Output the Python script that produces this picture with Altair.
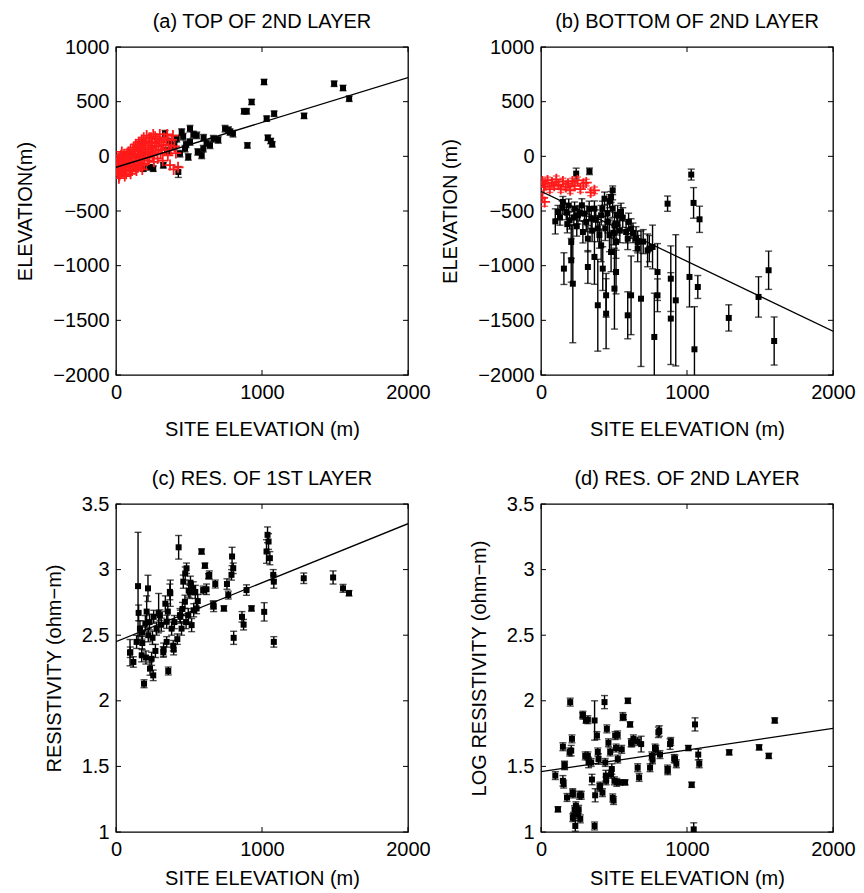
import altair as alt
import pandas as pd

FONT = "Liberation Sans"

# ---------------- (a) top of 2nd layer ----------------
a_site = [187, 255, 324, 336, 370, 416, 427, 438, 450, 473, 495, 507, 507, 530, 553, 587, 598, 620,
          644, 667, 700, 747, 770, 781, 801, 877, 895, 900, 929, 1014, 1032, 1040, 1060, 1070, 1083,
          1288, 1494, 1555, 1597, 460, 480, 560, 600, 400, 350, 130, 230]
a_elev = [-113, -113, -82, 207, 131, 161, -143, 24, 222, 70, -6, 253, 131, 200, 192, 9, 70, 120,
          101, 161, 150, 253, 240, 222, 207, 412, 412, 100, 497, 680, 345, 170, 140, 110, 390,
          370, 664, 625, 527, 180, 110, 40, 170, 100, 50, -110, -100]
a_err = [25, 25, 25, 30, 30, 30, 50, 30, 30, 30, 30, 30, 30, 30, 30, 30, 30, 30,
         30, 30, 30, 30, 30, 30, 30, 25, 25, 25, 25, 25, 25, 25, 25, 25, 25,
         25, 25, 25, 25, 30, 30, 30, 30, 30, 30, 25, 25]
a_red_site = [0, 5, 10, 15, 20, 25, 30, 35, 40, 45, 50, 55, 60, 65, 70, 75, 80, 85, 90, 95, 100,
              105, 110, 115, 120, 125, 130, 135, 140, 145, 150, 155, 160, 165, 170, 175, 180, 185,
              190, 195, 200, 205, 210, 215, 220, 225, 230, 240, 245, 250, 255, 260, 265, 270, 280,
              285, 290, 300, 305, 310, 320, 330, 340, 350, 360, 370, 380, 395, 410, 425, 20, 60,
              100, 140, 180, 40,
              8, 12, 18, 28, 33, 38, 48, 52, 58, 68, 72, 78, 88, 92, 98, 108, 112, 118, 128, 132,
              138, 148, 152, 158, 162, 168, 178, 182, 188, 198, 208, 218, 228, 235, 248, 258, 268,
              275, 295, 315, 325, 345, 355, 375, 390, 400]
a_red_elev = [-120, -60, -150, -20, -90, -170, -40, 10, -110, -70, -130, 20, -30, -90, -160, 0, -60,
              40, -100, -20, 60, -50, -130, 20, 80, -80, 0, 110, -40, 50, -100, 130, 10, -60, 80,
              150, -20, 40, 170, -70, 100, 20, 190, -40, 60, 130, -10, 170, 80, 10, 200, -50, 120,
              50, 160, -20, 90, 200, 30, 130, -40, 170, 60, 200, 100, -80, 150, -120, 30, -100,
              -200, -180, -160, -130, -120, 40,
              -100, -40, -130, -10, -80, -150, -30, -100, -60, -10, -120, 30, -70, 10, -140, 0,
              -90, 50, -50, 60, -110, 90, 0, -60, 110, 20, 80, -80, 120, 40, 140, -10, 170, 80,
              130, 30, 180, 100, 150, 60, 110, 150, 10, 60, 190, 90]

# ---------------- (b) bottom of 2nd layer ----------------
b_site = [98, 116, 150, 157, 173, 196, 207, 207, 218, 230, 241, 253, 280, 287, 298, 321, 321, 332,
          344, 366, 366, 389, 389, 412, 412, 423, 435, 446, 446, 457, 469, 480, 480, 491, 491, 503,
          503, 514, 514, 525, 548, 583, 594, 594, 617, 617, 651, 662, 662, 685, 742, 764, 776, 798,
          798, 867, 889, 889, 923, 1017, 1029, 1045, 1051, 1074, 1086, 1286, 1490, 1559, 1597,
          130, 145, 180, 190, 225, 245, 265, 310, 330, 350, 375, 400, 420, 440, 455, 470, 495, 520,
          540, 560, 600, 630, 700, 730]
b_elev = [-595, -509, -417, -1027, -509, -585, -951, -783, -1165, -478, -158, -539, -448, -692,
          -524, -1012, -753, -137, -570, -478, -920, -661, -1362, -539, -814, -1027, -387, -1439,
          -1271, -600, -722, -875, -372, -311, -478, -631, -1210, -1058, -783, -539, -509, -692,
          -753, -1454, -661, -1271, -753, -844, -783, -1302, -844, -829, -1652, -1058, -1271, -433,
          -1119, -1484, -1317, -1103, -167, -426, -1765, -1195, -576, -1478, -1286, -1042, -1689,
          -560, -470, -620, -450, -560, -640, -520, -600, -480, -680, -580, -720, -480, -660, -520,
          -410, -700, -620, -680, -560, -600, -700, -780, -860]
b_err = [115, 60, 50, 145, 70, 80, 200, 150, 540, 60, 50, 80, 60, 100, 70, 150, 120, 30, 90, 70,
         250, 120, 420, 90, 150, 200, 60, 320, 200, 100, 150, 180, 50, 40, 80, 120, 370, 200, 150,
         90, 80, 100, 100, 215, 90, 360, 110, 120, 100, 620, 120, 200, 400, 260, 150, 70, 300,
         420, 600, 275, 50, 140, 390, 105, 120, 120, 185, 175, 220,
         70, 60, 80, 60, 70, 90, 70, 90, 70, 100, 90, 120, 70, 110, 80, 60, 110, 100, 110, 90, 80,
         90, 110, 150]
b_red_site = [10, 20, 30, 25, 10, 45, 60, 75, 90, 105, 120, 135, 150, 170, 185, 200, 215, 230, 250,
              270, 290, 310, 366, 340]
b_red_elev = [-230, -280, -250, -417, -380, -220, -300, -240, -270, -210, -260, -300, -230, -280,
              -250, -310, -230, -270, -220, -300, -250, -240, -311, -330]
b_red_err = [30, 30, 30, 40, 40, 30, 30, 30, 30, 30, 30, 30, 30, 30, 30, 30, 30, 30, 30, 30, 30,
             30, 30, 30]

# ---------------- (c) resistivity of 1st layer ----------------
c_site = [96, 98, 119, 141, 151, 155, 164, 176, 178, 192, 201, 210, 219, 221, 233, 244, 255, 258,
          278, 292, 301, 324, 326, 338, 347, 347, 358, 369, 372, 381, 392, 395, 429, 438, 441, 449,
          461, 472, 474, 483, 495, 498, 506, 518, 529, 532, 543, 552, 586, 597, 609, 634, 639, 666,
          669, 680, 739, 760, 769, 791, 795, 803, 806, 863, 874, 894, 928, 1015, 1031, 1038, 1045,
          1054, 1077, 1081, 1081, 1286, 1487, 1555, 1596,
          180, 205, 230, 250, 270, 310, 355, 400, 420, 455, 480, 510, 560, 620]
c_res = [2.367, 2.37, 2.296, 2.449, 2.874, 2.67, 2.55, 2.347, 2.52, 2.13, 2.59, 2.68, 2.857, 2.50,
         2.245, 2.32, 2.194, 2.64, 2.55, 2.668, 2.653, 2.372, 2.39, 2.74, 2.449, 2.602, 2.227, 2.83,
         2.82, 2.55, 2.42, 2.39, 3.17, 2.653, 2.64, 2.55, 2.908, 2.755, 2.97, 3.01, 2.653, 2.84,
         2.83, 2.577, 2.857, 2.69, 2.83, 2.704, 3.138, 2.844, 3.03, 2.95, 2.96, 2.73, 2.72, 2.89,
         2.704, 2.89, 2.806, 2.96, 3.10, 3.01, 2.48, 2.64, 2.58, 2.844, 2.704, 2.678, 3.138, 3.265,
         3.214, 3.087, 2.96, 2.449, 2.908, 2.934, 2.94, 2.857, 2.82,
         2.44, 2.33, 2.60, 2.48, 2.38, 2.58, 2.68, 2.60, 2.47, 2.70, 2.60, 2.90, 2.76, 2.85]
c_err = [0.10, 0.04, 0.04, 0.05, 0.41, 0.06, 0.06, 0.05, 0.05, 0.03, 0.06, 0.12, 0.10, 0.05, 0.05,
         0.05, 0.04, 0.05, 0.05, 0.15, 0.04, 0.04, 0.05, 0.06, 0.04, 0.05, 0.03, 0.06, 0.10, 0.05,
         0.04, 0.04, 0.09, 0.05, 0.05, 0.05, 0.05, 0.05, 0.05, 0.04, 0.05, 0.05, 0.05, 0.05, 0.05,
         0.05, 0.05, 0.04, 0.02, 0.03, 0.02, 0.02, 0.03, 0.03, 0.04, 0.03, 0.02, 0.04, 0.03, 0.04,
         0.07, 0.04, 0.05, 0.04, 0.04, 0.04, 0.02, 0.07, 0.09, 0.06, 0.06, 0.05, 0.04, 0.04, 0.05,
         0.04, 0.05, 0.03, 0.02,
         0.05, 0.05, 0.06, 0.05, 0.05, 0.05, 0.06, 0.05, 0.04, 0.05, 0.05, 0.05, 0.05, 0.04]

# ---------------- (d) resistivity of 2nd layer ----------------
d_site = [98, 116, 155, 162, 178, 200, 207, 212, 217, 223, 235, 239, 258, 269, 276, 285, 303, 308,
          326, 349, 367, 367, 371, 383, 394, 405, 421, 435, 440, 444, 451, 462, 474, 485, 497, 508,
          519, 526, 542, 553, 565, 576, 595, 610, 622, 633, 672, 686, 747, 759, 781, 804, 815, 868,
          884, 918, 927, 1009, 1032, 1046, 1055, 1077, 1084, 1289, 1494, 1560, 1601,
          287, 321, 560, 150, 196, 161, 150, 218, 264, 230, 253, 218, 321, 344, 389, 480, 446, 503,
          401, 491, 525, 514, 617, 662, 662, 764, 787, 810, 867, 889, 912]
d_res = [1.43, 1.173, 1.365, 1.505, 1.263, 1.99, 1.62, 1.71, 1.30, 1.12, 1.046, 1.20, 1.173, 1.10,
         1.28, 1.89, 1.58, 1.85, 1.53, 1.40, 1.85, 1.046, 1.28, 1.735, 1.556, 1.35, 1.30, 1.99, 1.53,
         1.43, 1.786, 1.68, 1.61, 1.48, 1.24, 1.735, 1.378, 1.556, 1.378, 1.63, 1.875, 1.378, 2.0,
         1.82, 1.68, 1.71, 1.416, 1.67, 1.49, 1.58, 1.64, 1.76, 1.59, 1.467, 1.67, 1.556, 1.52,
         1.64, 1.36, 1.02, 1.82, 1.59, 1.52, 1.607, 1.645, 1.58, 1.85,
         1.89, 1.856, 1.88, 1.65, 1.61, 1.51, 1.39, 1.29, 1.28, 1.17, 1.134, 1.109, 1.58, 1.53,
         1.61, 1.44, 1.39, 1.39, 1.34, 1.26, 1.74, 1.64, 1.68, 1.69, 1.49, 1.55, 1.63, 1.77, 1.48,
         1.69, 1.56]
d_err = [0.03, 0.02, 0.03, 0.03, 0.03, 0.03, 0.04, 0.03, 0.03, 0.03, 0.04, 0.03, 0.03, 0.03, 0.03,
         0.02, 0.03, 0.02, 0.04, 0.04, 0.15, 0.03, 0.05, 0.03, 0.04, 0.03, 0.03, 0.05, 0.03, 0.04,
         0.03, 0.03, 0.03, 0.04, 0.03, 0.03, 0.03, 0.03, 0.02, 0.03, 0.02, 0.02, 0.02, 0.02, 0.03,
         0.03, 0.03, 0.06, 0.03, 0.03, 0.03, 0.04, 0.03, 0.03, 0.04, 0.03, 0.03, 0.02, 0.02, 0.05,
         0.05, 0.04, 0.03, 0.02, 0.02, 0.02, 0.02,
         0.03, 0.03, 0.03, 0.03, 0.03, 0.03, 0.04, 0.03, 0.03, 0.03, 0.03, 0.03, 0.03, 0.03, 0.03,
         0.03, 0.03, 0.03, 0.03, 0.03, 0.03, 0.03, 0.03, 0.03, 0.03, 0.03, 0.03, 0.04, 0.03, 0.03,
         0.03]

# least-squares fit lines, given by their end points
fit_site = [0, 2000]
a_fit = [-100, 720]
b_fit = [-320, -1600]
c_fit = [2.45, 3.35]
d_fit = [1.46, 1.79]

x_ticks = [0, 1000, 2000]
elev_ticks = [-2000, -1500, -1000, -500, 0, 500, 1000]
res_ticks = [1, 1.5, 2, 2.5, 3, 3.5]

W, H = 292, 328
TICK = 5
RED = "#ff1a1a"
FS = 20


def frame(v, err):
    return pd.DataFrame({"x": v[0], "y": v[1], "lo": [a - e for a, e in zip(v[1], err)],
                         "hi": [a + e for a, e in zip(v[1], err)]})


def panel(title, ytitle, ydom, yticks, black, black_err, fit, red=None, red_err=None, yfmt="d",
          xtitle_pad=17):
    xs = alt.Scale(domain=[0, 2000], nice=False, zero=False)
    ys = alt.Scale(domain=ydom, nice=False, zero=False)
    xax = alt.Axis(values=x_ticks, title="SITE ELEVATION (m)", format="d",
                   titlePadding=xtitle_pad)
    yax = alt.Axis(values=yticks, title=ytitle, format=yfmt)
    X = alt.X("x:Q", scale=xs, axis=xax)
    Y = alt.Y("y:Q", scale=ys, axis=yax)

    bdf = frame(black, black_err)
    layers = []

    # inward tick marks on all four sides
    xt = pd.DataFrame({"x": x_ticks})
    yt = pd.DataFrame({"y": yticks})
    for y0, y1 in [(H, H - TICK), (0, TICK)]:
        layers.append(alt.Chart(xt).mark_rule(color="black", strokeWidth=1).encode(
            x=X, y=alt.value(y0), y2=alt.value(y1)))
    for x0, x1 in [(0, TICK), (W - TICK, W)]:
        layers.append(alt.Chart(yt).mark_rule(color="black", strokeWidth=1).encode(
            y=Y, x=alt.value(x0), x2=alt.value(x1)))

    def bars(df, color):
        out = [alt.Chart(df).mark_rule(color=color, strokeWidth=1.4, clip=True).encode(
            x=X, y=alt.Y("lo:Q", scale=ys, axis=yax), y2="hi:Q")]
        for end in ["lo", "hi"]:
            out.append(alt.Chart(df).mark_tick(color=color, orient="horizontal", size=7,
                                               thickness=1.4, clip=True).encode(
                x=X, y=alt.Y(f"{end}:Q", scale=ys, axis=yax)))
        return out

    layers += bars(bdf, "black")
    layers.append(alt.Chart(bdf).mark_point(shape="square", filled=True, color="black",
                                            size=36, opacity=1, clip=True).encode(x=X, y=Y))

    if red is not None:
        rdf = frame(red, red_err if red_err else [0] * len(red[0]))
        if red_err:
            layers += bars(rdf, RED)
        layers.append(alt.Chart(rdf).mark_point(shape="M-1,0L1,0M0,-1L0,1", filled=False,
                                                color=RED, size=120, strokeWidth=1.8,
                                                opacity=1, clip=True).encode(x=X, y=Y))

    fdf = pd.DataFrame({"x": fit_site, "y": fit})
    layers.append(alt.Chart(fdf).mark_line(color="black", strokeWidth=1.3, clip=True).encode(
        x=X, y=Y))

    return alt.layer(*layers).properties(
        width=W, height=H,
        title=alt.TitleParams(title, fontSize=FS, fontWeight="normal", font=FONT,
                              color="black", offset=5))


pa = panel("(a) TOP OF 2ND LAYER", "ELEVATION(m)", [-2000, 1000], elev_ticks,
           (a_site, a_elev), a_err, a_fit, red=(a_red_site, a_red_elev))
pb = panel("(b) BOTTOM OF 2ND LAYER", "ELEVATION (m)", [-2000, 1000], elev_ticks,
           (b_site, b_elev), b_err, b_fit, red=(b_red_site, b_red_elev), red_err=b_red_err)
pc = panel("(c) RES. OF 1ST LAYER", "RESISTIVITY (ohm\u2212m)", [1, 3.5], res_ticks,
           (c_site, c_res), c_err, c_fit, yfmt="~g", xtitle_pad=9)
pd_ = panel("(d) RES. OF 2ND LAYER", "LOG RESISTIVITY (ohm\u2212m)", [1, 3.5], res_ticks,
            (d_site, d_res), d_err, d_fit, yfmt="~g", xtitle_pad=9)

chart = alt.concat(pa, pb, pc, pd_, columns=2, spacing={"row": 129, "column": 133},
                   bounds="flush").configure_view(
    stroke="black", strokeWidth=1.3
).configure_axis(
    grid=False, domain=False, ticks=False, labelFont=FONT, titleFont=FONT,
    labelFontSize=FS, titleFontSize=FS, titleFontWeight="normal", labelColor="black",
    titleColor="black", labelPadding=7, labelFlush=False,
    labelOverlap=False, labelBound=False
).configure_axisY(titlePadding=17).properties(
    background="white", padding={"left": 15, "top": 11, "right": 5, "bottom": 5})

chart.save("out.html", embed_options={"renderer": "svg", "actions": False})
